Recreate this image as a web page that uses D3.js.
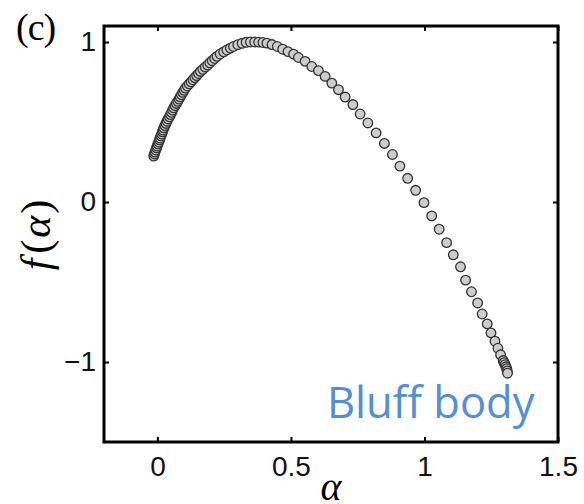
<!DOCTYPE html>
<html>
<head>
<meta charset="utf-8">
<script src="https://cdn.jsdelivr.net/npm/d3@7"></script>
<style>
  body { margin: 0; background: #fff; }
  svg { display: block; }
  .tick text { font-family: "Liberation Sans", Arial, sans-serif; font-size: 28px; fill: #111; }
  .tick line { stroke: #000; stroke-width: 2; }
</style>
</head>
<body>
<svg width="584" height="504"></svg>
<script>
// f(alpha) spectrum
var alpha = [
  -0.014, -0.011, -0.009, -0.006, -0.003, -0.001, 0.002, 0.005, 0.008, 0.010,
  0.013, 0.016, 0.019, 0.021, 0.024, 0.028, 0.032, 0.036, 0.040, 0.045,
  0.049, 0.053, 0.057, 0.061, 0.066, 0.071, 0.076, 0.081, 0.085, 0.090,
  0.095, 0.100, 0.105, 0.112, 0.119, 0.126, 0.133, 0.140, 0.147, 0.154,
  0.161, 0.170, 0.179, 0.188, 0.196, 0.205, 0.214, 0.223, 0.235, 0.248,
  0.260, 0.273, 0.285, 0.301, 0.317, 0.332, 0.348, 0.364, 0.379, 0.395,
  0.410, 0.429, 0.449, 0.469, 0.489, 0.510, 0.528, 0.553, 0.578, 0.603,
  0.628, 0.653, 0.678, 0.703, 0.732, 0.759, 0.788, 0.819, 0.850, 0.880,
  0.908, 0.937, 0.967, 0.998, 1.027, 1.055, 1.083, 1.108, 1.135, 1.154,
  1.176, 1.199, 1.216, 1.235, 1.249, 1.264, 1.275, 1.285, 1.295, 1.298,
  1.302, 1.305, 1.308, 1.310, 1.311
];
var fAlpha = [
  0.287, 0.300, 0.312, 0.325, 0.338, 0.350, 0.363, 0.375, 0.388, 0.400,
  0.413, 0.425, 0.438, 0.450, 0.463, 0.477, 0.491, 0.505, 0.519, 0.532,
  0.546, 0.560, 0.574, 0.588, 0.602, 0.616, 0.629, 0.643, 0.657, 0.671,
  0.685, 0.698, 0.712, 0.725, 0.738, 0.751, 0.764, 0.777, 0.790, 0.803,
  0.816, 0.829, 0.843, 0.856, 0.870, 0.883, 0.897, 0.910, 0.925, 0.938,
  0.950, 0.962, 0.972, 0.983, 0.992, 0.998, 1.000, 1.000, 0.999, 0.997,
  0.993, 0.984, 0.972, 0.955, 0.940, 0.924, 0.903, 0.879, 0.847, 0.821,
  0.785, 0.743, 0.702, 0.656, 0.609, 0.550, 0.494, 0.432, 0.366, 0.297,
  0.224, 0.148, 0.073, -0.004, -0.087, -0.170, -0.254, -0.330, -0.405, -0.488,
  -0.561, -0.631, -0.700, -0.762, -0.818, -0.870, -0.914, -0.955, -0.991, -1.004,
  -1.017, -1.030, -1.042, -1.056, -1.070
];
var xTicks = [0, 0.5, 1, 1.5];
var yTicks = [-1, 0, 1];
var xDomain = [-0.2, 1.5];
var yDomain = [-1.5, 1.1];

var svg = d3.select('svg');
var box = { left: 104, right: 558, top: 26, bottom: 442 };

var x = d3.scaleLinear().domain(xDomain).range([box.left, box.right]);
var y = d3.scaleLinear().domain(yDomain).range([box.bottom, box.top]);

var fmt = function(d) { return d < 0 ? '\u2212' + Math.abs(d) : String(d); };

svg.append('g')
  .attr('transform', 'translate(0,' + box.bottom + ')')
  .call(d3.axisBottom(x).tickValues(xTicks).tickFormat(fmt).tickSizeInner(-5).tickSizeOuter(0).tickPadding(14))
  .call(function(g) { g.select('.domain').remove(); });

svg.append('g')
  .attr('transform', 'translate(0,' + box.top + ')')
  .call(d3.axisTop(x).tickValues(xTicks).tickFormat('').tickSizeInner(-5).tickSizeOuter(0))
  .call(function(g) { g.select('.domain').remove(); });

svg.append('g')
  .attr('transform', 'translate(' + box.left + ',0)')
  .call(d3.axisLeft(y).tickValues(yTicks).tickFormat(fmt).tickSizeInner(-5).tickSizeOuter(0).tickPadding(8))
  .call(function(g) { g.select('.domain').remove(); });

svg.append('g')
  .attr('transform', 'translate(' + box.right + ',0)')
  .call(d3.axisRight(y).tickValues(yTicks).tickFormat('').tickSizeInner(-5).tickSizeOuter(0))
  .call(function(g) { g.select('.domain').remove(); });

svg.append('rect')
  .attr('x', box.left).attr('y', box.top)
  .attr('width', box.right - box.left).attr('height', box.bottom - box.top)
  .attr('fill', 'none').attr('stroke', '#000').attr('stroke-width', 3);

// markers
svg.append('g')
  .selectAll('circle')
  .data(alpha)
  .join('circle')
  .attr('cx', function(d) { return x(d); })
  .attr('cy', function(d, i) { return y(fAlpha[i]); })
  .attr('r', 4.8)
  .attr('fill', '#cdcdcd')
  .attr('stroke', '#333')
  .attr('stroke-width', 1.3);

// labels
svg.append('text')
  .attr('x', 16).attr('y', 40)
  .attr('font-family', '"Liberation Serif", serif')
  .attr('font-size', 38)
  .attr('letter-spacing', -1)
  .text('(c)');

var yl = svg.append('text')
  .attr('transform', 'translate(50,235) rotate(-90)')
  .attr('text-anchor', 'middle')
  .attr('font-family', '"Liberation Serif", serif')
  .attr('font-size', 42);
yl.append('tspan').attr('font-style', 'italic').text('f');
yl.append('tspan').attr('dx', 5).text('(');
yl.append('tspan').attr('dx', 2).attr('font-style', 'italic').text('\u03b1');
yl.append('tspan').attr('dx', 2).text(')');

svg.append('text')
  .attr('x', 331).attr('y', 500)
  .attr('text-anchor', 'middle')
  .attr('font-family', '"Liberation Serif", serif')
  .attr('font-style', 'italic')
  .attr('font-size', 40)
  .text('\u03b1');

svg.append('text')
  .attr('x', 327).attr('y', 418)
  .attr('font-family', '"Open Sans", sans-serif')
  .attr('font-size', 43.5)
  .attr('fill', '#558ed5')
  .text('Bluff body');
</script>
</body>
</html>
